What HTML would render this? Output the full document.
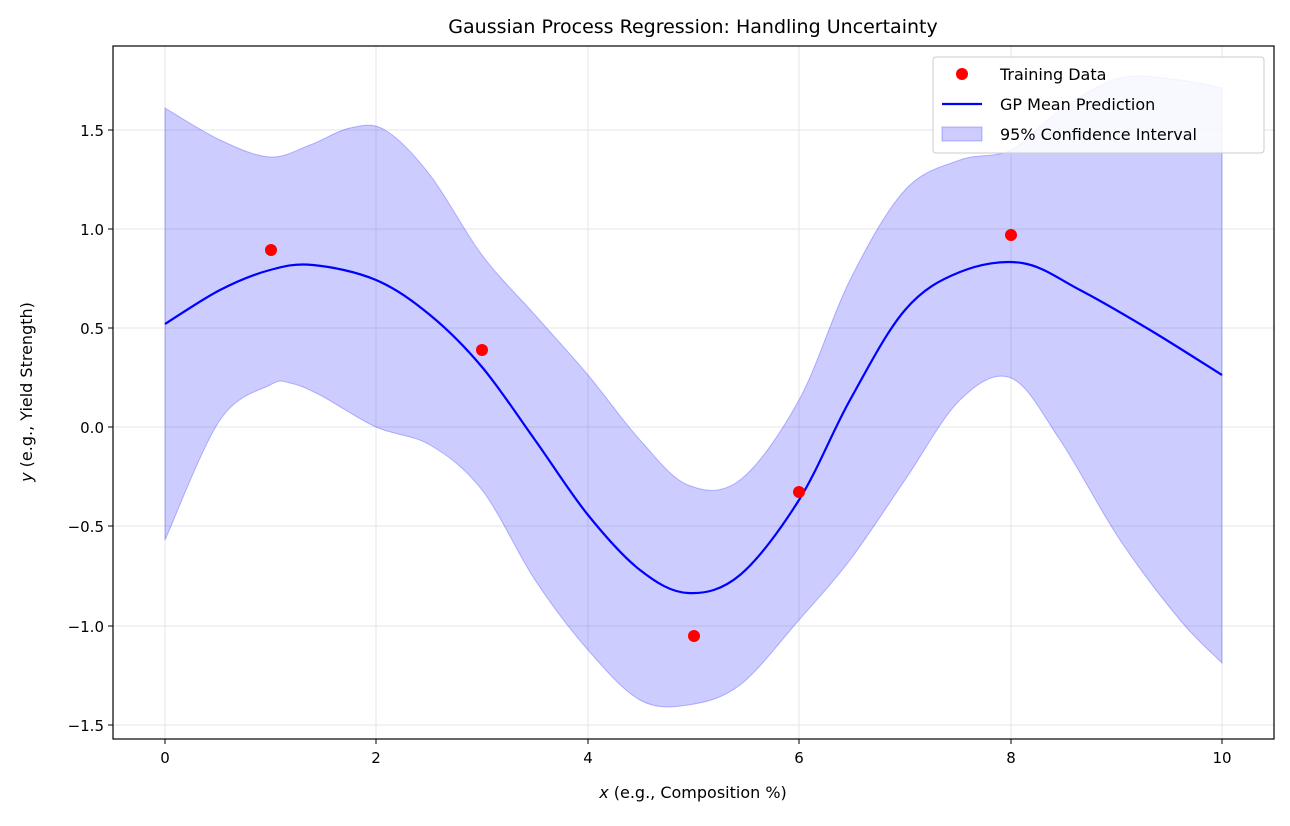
<!DOCTYPE html>
<html><head><meta charset="utf-8"><style>
body{margin:0;background:#fff;}
svg text{font-family:"DejaVu Sans","Liberation Sans",sans-serif;fill:#000;}
</style></head><body>
<svg id="s" width="1290" height="821" xmlns="http://www.w3.org/2000/svg">
<rect width="1290" height="821" fill="#fff"/>
<g stroke="#e6e6e6" stroke-width="1">
<line x1="165" y1="46" x2="165" y2="739"/><line x1="376" y1="46" x2="376" y2="739"/>
<line x1="588" y1="46" x2="588" y2="739"/><line x1="799" y1="46" x2="799" y2="739"/>
<line x1="1011" y1="46" x2="1011" y2="739"/><line x1="1222" y1="46" x2="1222" y2="739"/>
<line x1="113" y1="130" x2="1274" y2="130"/><line x1="113" y1="229" x2="1274" y2="229"/>
<line x1="113" y1="328" x2="1274" y2="328"/><line x1="113" y1="427" x2="1274" y2="427"/>
<line x1="113" y1="526" x2="1274" y2="526"/><line x1="113" y1="626" x2="1274" y2="626"/>
<line x1="113" y1="725" x2="1274" y2="725"/>
</g>
<path id="band" fill="#0000ff" fill-opacity="0.2" stroke="#0000ff" stroke-opacity="0.25" stroke-width="1"/>
<path id="mean" fill="none" stroke="#0000ff" stroke-width="2.2"/>
<g fill="#ff0000">
<circle cx="271" cy="250" r="6"/><circle cx="482" cy="350" r="6"/><circle cx="694" cy="636" r="6"/><circle cx="799" cy="492" r="6"/><circle cx="1011" cy="235" r="6"/>
</g>
<rect x="113" y="46" width="1161" height="693" fill="none" stroke="#000" stroke-width="1.2"/>
<g stroke="#000" stroke-width="1">
<line x1="165" y1="739" x2="165" y2="744"/><line x1="376" y1="739" x2="376" y2="744"/>
<line x1="588" y1="739" x2="588" y2="744"/><line x1="799" y1="739" x2="799" y2="744"/>
<line x1="1011" y1="739" x2="1011" y2="744"/><line x1="1222" y1="739" x2="1222" y2="744"/>
<line x1="108" y1="130" x2="113" y2="130"/><line x1="108" y1="229" x2="113" y2="229"/>
<line x1="108" y1="328" x2="113" y2="328"/><line x1="108" y1="427" x2="113" y2="427"/>
<line x1="108" y1="526" x2="113" y2="526"/><line x1="108" y1="626" x2="113" y2="626"/>
<line x1="108" y1="725" x2="113" y2="725"/>
</g>
<g font-size="15" text-anchor="middle">
<text x="165" y="763">0</text><text x="376" y="763">2</text><text x="588" y="763">4</text>
<text x="799" y="763">6</text><text x="1011" y="763">8</text><text x="1222" y="763">10</text>
</g>
<g font-size="15" text-anchor="end">
<text x="104" y="136">1.5</text><text x="104" y="235">1.0</text><text x="104" y="334">0.5</text>
<text x="104" y="433">0.0</text><text x="104" y="532">−0.5</text><text x="104" y="632">−1.0</text>
<text x="104" y="731">−1.5</text>
</g>
<text x="693" y="798" font-size="16" text-anchor="middle"><tspan font-style="italic">x</tspan> (e.g., Composition %)</text>
<text transform="translate(32,392) rotate(-90)" font-size="16" text-anchor="middle"><tspan font-style="italic">y</tspan> (e.g., Yield Strength)</text>
<text x="693" y="33" font-size="19" text-anchor="middle">Gaussian Process Regression: Handling Uncertainty</text>
<rect x="933" y="57" width="331" height="96" rx="3" fill="#fff" fill-opacity="0.85" stroke="#ccc"/>
<circle cx="962" cy="74" r="6" fill="#f00"/>
<line x1="942" y1="104" x2="982" y2="104" stroke="#00f" stroke-width="2.2"/>
<rect x="942" y="127" width="40" height="14" fill="#0000ff" fill-opacity="0.2" stroke="#0000ff" stroke-opacity="0.25"/>
<g font-size="16"><text x="1000" y="80">Training Data</text><text x="1000" y="110">GP Mean Prediction</text><text x="1000" y="140">95% Confidence Interval</text></g>
</svg>
<script>
function cr(p){let d="M"+p[0][0]+","+p[0][1];for(let i=0;i<p.length-1;i++){const a=p[Math.max(i-1,0)],b=p[i],c=p[i+1],e=p[Math.min(i+2,p.length-1)];d+=" C"+(b[0]+(c[0]-a[0])/6)+","+(b[1]+(c[1]-a[1])/6)+" "+(c[0]-(e[0]-b[0])/6)+","+(c[1]-(e[1]-b[1])/6)+" "+c[0]+","+c[1];}return d;}
const mean=[[165,324],[220,290],[270,270],[313,265],[376,280],[430,315],[482,367],[535,440],[588,515],[640,570],[688,593],[740,575],[799,500],[850,400],[905,310],[960,272],[1022,263],[1080,290],[1150,330],[1222,375]];
const up=[[165,108],[220,140],[270,157],[310,145],[350,128],[385,130],[430,175],[482,255],[535,315],[588,375],[640,440],[688,485],[740,480],[799,400],[850,280],[905,190],[960,160],[1011,150],[1060,110],[1120,78],[1180,80],[1222,88]];
const lo=[[165,540],[220,420],[270,385],[290,383],[320,395],[376,427],[430,445],[482,490],[535,580],[588,650],[640,700],[688,705],[740,685],[799,620],[850,560],[905,480],[960,400],[1011,378],[1060,440],[1120,540],[1180,620],[1222,663]];
document.getElementById("mean").setAttribute("d",cr(mean));
const lr=lo.slice().reverse();
document.getElementById("band").setAttribute("d",cr(up)+" L1222,663 "+cr(lr).replace(/^M/," L")+" Z");
</script>
</body></html>
